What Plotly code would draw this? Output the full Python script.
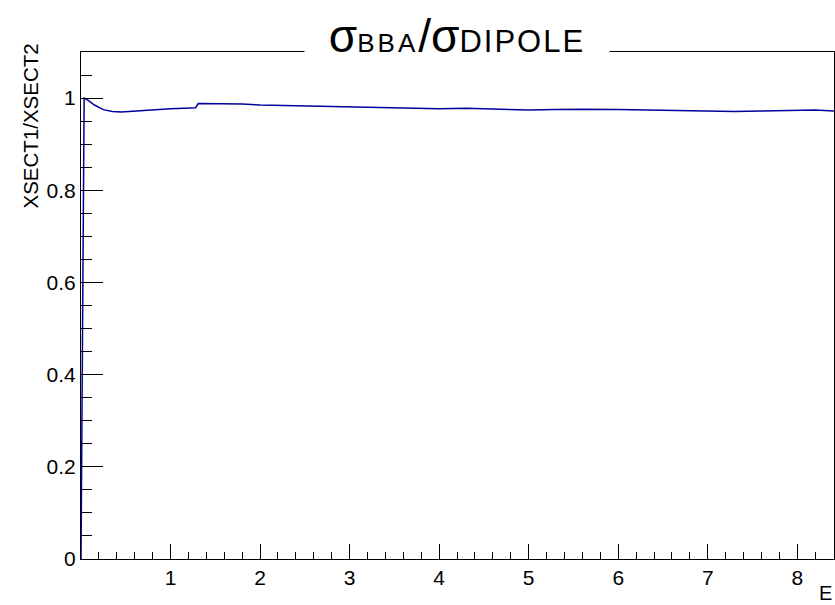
import plotly.graph_objects as go

# ratio data
energy = [0.0, 0.035, 0.08, 0.15, 0.25, 0.35, 0.45, 0.6, 0.8, 1.0, 1.15, 1.28, 1.31, 1.5, 1.8, 2.0,
          2.3, 2.6, 3.0, 3.3, 3.6, 4.0, 4.3, 4.7, 5.0, 5.3, 5.6, 6.0, 6.3, 6.7, 7.0, 7.3, 7.6, 8.0, 8.2, 8.41]
ratio = [0.0, 1.0, 0.995, 0.985, 0.975, 0.971, 0.970, 0.972, 0.975, 0.977, 0.978, 0.979, 0.988, 0.988,
         0.987, 0.985, 0.984, 0.982, 0.980, 0.980, 0.979, 0.977, 0.978, 0.976, 0.974, 0.975, 0.976,
         0.975, 0.974, 0.972, 0.971, 0.971, 0.972, 0.973, 0.974, 0.972]

x_ticks = [1, 2, 3, 4, 5, 6, 7, 8]
y_ticks = [0, 0.2, 0.4, 0.6, 0.8, 1]
y_tick_text = ["0", "0.2", "0.4", "0.6", "0.8", "1"]

FONT = "Liberation Sans, Arial, Helvetica, sans-serif"

fig = go.Figure()
fig.add_trace(go.Scatter(x=energy, y=ratio, mode="lines",
                         line=dict(color="#00009c", width=1.5), showlegend=False))

fig.update_layout(
    width=835, height=605,
    margin=dict(l=81, r=1, t=52, b=46),
    paper_bgcolor="white", plot_bgcolor="white",
    font=dict(family=FONT, size=21, color="black"),
    xaxis=dict(range=[0, 8.41], tickvals=x_ticks, ticktext=[str(v) for v in x_ticks],
               ticks="inside", ticklen=15, tickwidth=1, tickcolor="black",
               showline=True, linecolor="black", linewidth=1, mirror=True,
               showgrid=False, zeroline=False,
               minor=dict(dtick=0.2, tick0=0, ticks="inside", ticklen=7, tickcolor="black", tickwidth=1),
               tickfont=dict(size=21)),
    yaxis=dict(range=[0, 1.1], tickvals=y_ticks, ticktext=y_tick_text,
               ticks="inside", ticklen=22, tickwidth=1, tickcolor="black",
               showline=True, linecolor="black", linewidth=1, mirror=True,
               showgrid=False, zeroline=False,
               minor=dict(dtick=0.05, tick0=0, ticks="inside", ticklen=11, tickcolor="black", tickwidth=1),
               tickfont=dict(size=21)),
)

title = ('σ<span style="font-size:26px;letter-spacing:3px">BBA</span>/σ'
         '<span style="font-size:31px;letter-spacing:2px">DIPOLE</span>')
fig.add_annotation(text=title, xref="paper", yref="paper", x=0.4993, y=(559 - 36) / 507,
                   xanchor="center", yanchor="middle", showarrow=False,
                   font=dict(family=FONT, size=46, color="black"),
                   bgcolor="white", width=302, height=48)

fig.add_annotation(text="XSECT1/XSECT2", xref="paper", yref="paper",
                   x=(30 - 81) / 753, y=(559 - 42) / 507, xanchor="center", yanchor="top",
                   textangle=-90, showarrow=False, font=dict(family=FONT, size=20.5))

fig.add_annotation(text="E", xref="paper", yref="paper",
                   x=1.0, y=(559 - 593) / 507, xanchor="right", yanchor="middle",
                   showarrow=False, font=dict(family=FONT, size=20))

fig.write_html("out.html")
